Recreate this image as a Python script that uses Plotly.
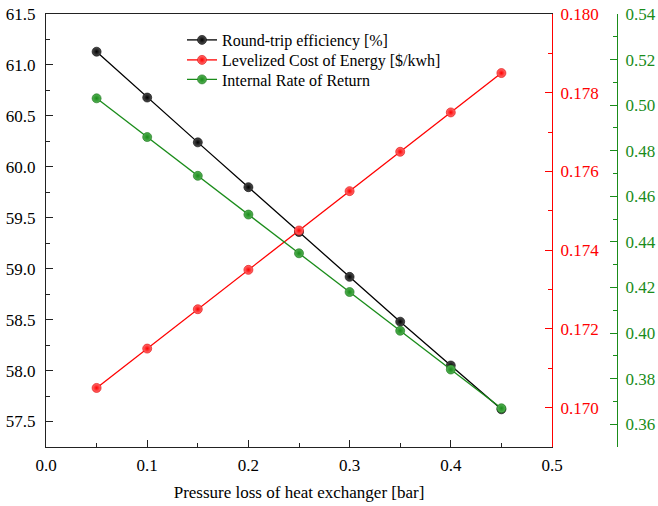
import plotly.graph_objects as go

pressure_loss = [0.05, 0.10, 0.15, 0.20, 0.25, 0.30, 0.35, 0.40, 0.45]
round_trip_eff = [61.13, 60.68, 60.24, 59.80, 59.36, 58.92, 58.48, 58.05, 57.62]
lcoe = [0.1705, 0.1715, 0.1725, 0.1735, 0.1745, 0.1755, 0.1765, 0.1775, 0.1785]
irr = [0.503, 0.486, 0.469, 0.452, 0.435, 0.418, 0.401, 0.384, 0.367]

FONT = "Liberation Serif"
GREEN = "#1a8c1a"
RED = "#ff0000"
AXC = "#222222"

W, H = 658, 506
L, T = 46, 14
plot_right, plot_bottom, green_x = 552, 447, 617
R = W - green_x
B = H - plot_bottom
paper_w = W - L - R
paper_h = H - T - B
dom = (plot_right - L) / paper_w


def ypaper(px):
    return 1 - (px - T) / paper_h


def xpaper(px):
    return (px - L) / paper_w


fig = go.Figure()
fig.add_trace(go.Scatter(x=pressure_loss, y=round_trip_eff, mode="lines+markers",
                         name="Round-trip efficiency [%]", legend="legend",
                         line=dict(color="black", width=1.3),
                         marker=dict(size=9, color="#505050",
                                     gradient=dict(type="radial", color="black"),
                                     line=dict(color="black", width=0.6)),
                         yaxis="y"))
fig.add_trace(go.Scatter(x=pressure_loss, y=lcoe, mode="lines+markers",
                         name="Levelized Cost of Energy [$/kwh]", legend="legend2",
                         line=dict(color=RED, width=1.3),
                         marker=dict(size=9, color="#ff7070",
                                     gradient=dict(type="radial", color=RED),
                                     line=dict(color="#e00000", width=0.6)),
                         yaxis="y2"))
fig.add_trace(go.Scatter(x=pressure_loss, y=irr, mode="lines+markers",
                         name="Internal Rate of Return", legend="legend3",
                         line=dict(color=GREEN, width=1.3),
                         marker=dict(size=9, color="#55b055",
                                     gradient=dict(type="radial", color=GREEN),
                                     line=dict(color="#137013", width=0.6)),
                         yaxis="y3"))

leg_common = dict(x=xpaper(182), xanchor="left", yanchor="middle", bgcolor="rgba(0,0,0,0)",
                  font=dict(size=16, family=FONT, color="black"), itemwidth=30,
                  borderwidth=0)

fig.update_layout(
    width=W, height=H,
    margin=dict(l=L, r=R, t=T, b=B),
    paper_bgcolor="white", plot_bgcolor="white",
    font=dict(family=FONT, size=17, color="black"),
    showlegend=True,
    legend=dict(y=ypaper(40), **leg_common),
    legend2=dict(y=ypaper(60), **leg_common),
    legend3=dict(y=ypaper(79.5), **leg_common),
    xaxis=dict(domain=[0, dom], range=[0, 0.5], dtick=0.1, tickformat=".1f",
               showgrid=False, zeroline=False, showline=True, linecolor=AXC,
               linewidth=1.3, mirror=True, ticks="inside", ticklen=7, tickcolor=AXC,
               automargin=False, ticklabeloverflow="allow",
               tickfont=dict(family=FONT, size=17, color="black"),
               ticklabelstandoff=2,
               minor=dict(ticks="inside", ticklen=4, dtick=0.05, tickcolor=AXC),
               title=dict(text="Pressure loss of heat exchanger [bar]",
                          font=dict(size=17, family=FONT), standoff=12)),
    yaxis=dict(range=[57.25, 61.5], dtick=0.5, tickformat=".1f", showgrid=False, zeroline=False,
               showline=True, linecolor=AXC, linewidth=1.3, ticks="inside", ticklen=7,
               tickcolor=AXC, automargin=False, ticklabeloverflow="allow", ticklabelstandoff=6,
               tickfont=dict(family=FONT, size=17, color="black"),
               minor=dict(ticks="inside", ticklen=4, dtick=0.25, tickcolor=AXC)),
    yaxis2=dict(range=[0.169, 0.180], dtick=0.002, tickformat=".3f", overlaying="y", side="right",
                anchor="x", showgrid=False, zeroline=False, showline=True, linecolor=RED,
                linewidth=1.3, ticks="inside", ticklen=7, tickcolor=RED, automargin=False,
                ticklabeloverflow="allow", ticklabelstandoff=4,
                tickfont=dict(color=RED, family=FONT, size=17),
                minor=dict(ticks="inside", ticklen=4, dtick=0.001, tickcolor=RED)),
    yaxis3=dict(range=[0.35, 0.54], dtick=0.02, tickformat=".2f", overlaying="y", side="right",
                anchor="free", position=1.0, showgrid=False, zeroline=False, showline=True,
                linecolor=GREEN, linewidth=1.3, ticks="inside", ticklen=7, tickcolor=GREEN,
                automargin=False, ticklabeloverflow="allow", ticklabelstandoff=4,
                tickfont=dict(color=GREEN, family=FONT, size=17),
                minor=dict(ticks="inside", ticklen=4, dtick=0.01, tickcolor=GREEN)),
)

fig.write_html("out.html", config={"displayModeBar": False},
               post_script="document.body.style.margin='0';document.body.style.overflow='hidden';")
